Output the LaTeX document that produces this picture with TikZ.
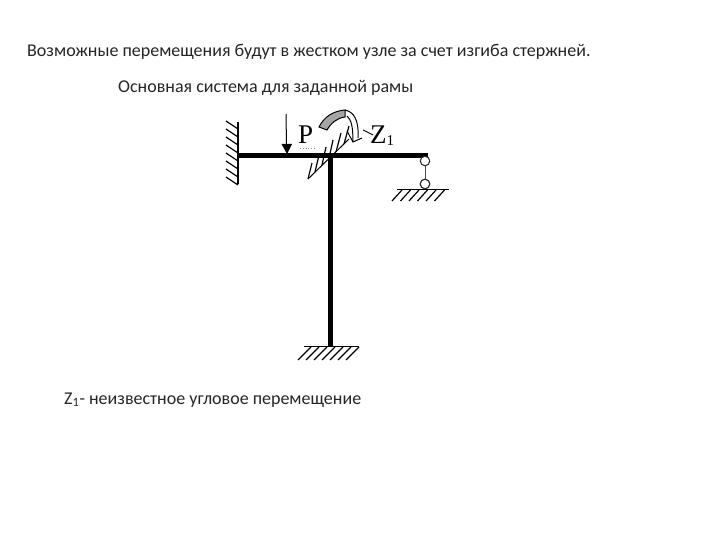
\documentclass[tikz,border=0pt]{standalone}
\usepackage{fontspec}
\setmainfont{Carlito}
\newfontfamily\serifz{Liberation Serif}
\tikzset{
  txt/.style={anchor=base west,inner sep=0pt,font=\fontsize{18}{21}\selectfont,text=black!85},
  big/.style={anchor=base west,inner sep=0pt,font=\serifz\fontsize{27}{30}\selectfont},
  member/.style={line width=5pt},
  thin line/.style={line width=1pt},
  hatch/.style={line width=1.2pt},
  pin/.style={circle,draw=black!85,fill=white,line width=1pt,minimum size=9.5pt,inner sep=0pt}
}
\begin{document}
\begin{tikzpicture}[x=1pt,y=-1pt]
\useasboundingbox (0,0) rectangle (720,540);
\fill[white] (0,0) rectangle (720,540);
\node[txt] (t1) at (27,57) {Возможные перемещения будут в жестком узле за счет изгиба стержней.};
\node[txt] (t2) at (118,93) {Основная система для заданной рамы};
\node[txt] (t3) at (64,404) {Z\textsubscript{1}- неизвестное угловое перемещение};
% hatched rotation-restraint
\coordinate (da) at (308,179);
\coordinate (db) at (349,139);
\draw[thin line] (da) -- (db);
\foreach \a/\b/\c/\d in {312/163/308/179, 319/155/315/172, 326/147/322/165, 333/140/329/158, 341/133/336/152, 349/126/344/144}
  {\draw[hatch] (\a,\b) -- (\c,\d);}
% frame
\coordinate (wall) at (238,156);
\coordinate (joint) at (330,156);
\coordinate (tip) at (428,156);
\coordinate (base) at (330,346);
\draw[member] (wall) -- (tip);
\draw[member] (joint) -- (base);
% left wall
\coordinate (wt) at (238,122);
\coordinate (wb) at (238,184);
\draw[line width=1.4pt] (wt) -- (wb);
\foreach \y in {129,137,...,185}{\draw[hatch] (238,\y) -- (226,\y-8);}
% bottom support
\coordinate (gl) at (304,346.5);
\coordinate (gr) at (359,346.5);
\draw[line width=1.3pt] (gl) -- (gr);
\foreach \x in {311,319,...,360}{\draw[hatch] (\x,347) -- (\x-13,360);}
% roller
\node[pin] (r1) at (425,161) {};
\node[pin] (r2) at (425,184) {};
\draw[line width=0.7pt,black!70] (r1) -- (r2);
\coordinate (rl) at (397,189.5);
\coordinate (rr) at (449,189.5);
\draw[line width=1.1pt] (rl) -- (rr);
\foreach \x in {402,410.5,...,450}{\draw[hatch] (\x,190) -- (\x-10,201);}
\node[pin] (r3) at (425,184) {};
% load P
\coordinate (ps) at (286,114);
\coordinate (pe) at (287,154);
\draw[line width=1pt] (ps) -- (286.5,145);
\fill (281.5,144) -- (292,144) -- (pe) -- cycle;
\node[big] (P) at (298,144) {P};
\draw[black!45,line width=0.8pt,dotted] (300,148) -- (315,148);
% moment band
\draw[thin line,fill=black!35] (319,127) .. controls (324,117) and (333,111) .. (345,110)
  -- (345,117) .. controls (337,118) and (331,123) .. (327,130) -- cycle;
\draw[thin line] (345,110) .. controls (354,112) and (359,120) .. (358,138);
\draw[thin line] (347,116) .. controls (351,120) and (353,125) .. (353,142);
\draw[thin line] (347,131) -- (353,142) -- (362,138);
% Z1
\coordinate (za) at (363,130);
\coordinate (zb) at (373,135);
\draw[line width=0.9pt] (za) -- (zb);
\node[big] (Z) at (370,144) {Z\raisebox{-2pt}{\fontsize{15}{15}\selectfont 1}};
\end{tikzpicture}
\end{document}
